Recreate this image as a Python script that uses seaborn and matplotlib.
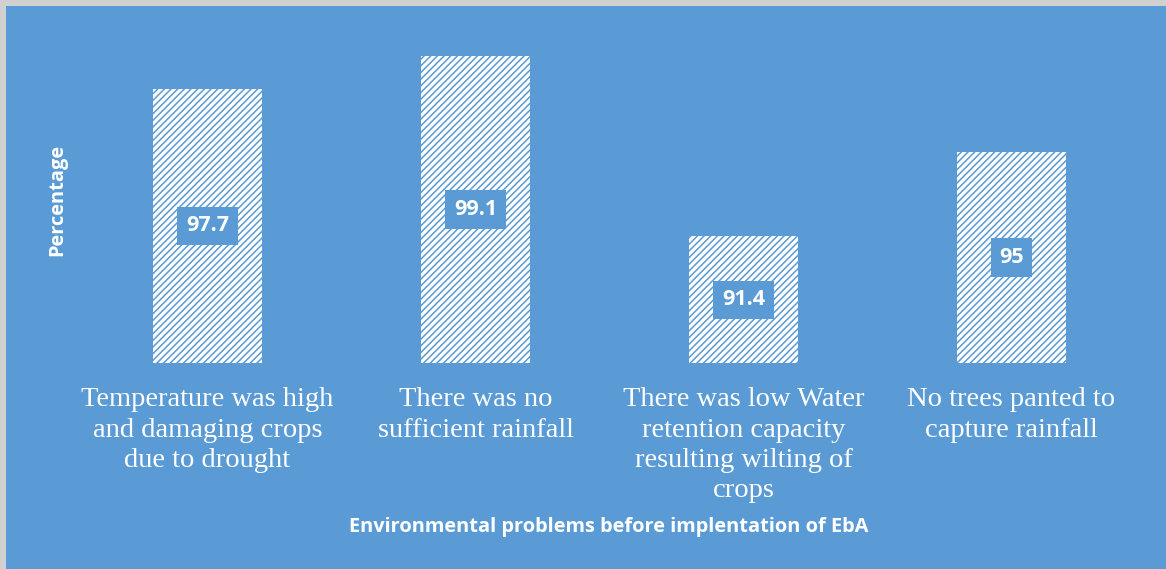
import matplotlib
matplotlib.use("Agg")
import matplotlib.pyplot as plt
import seaborn as sns
import pandas as pd
from matplotlib.patches import Rectangle

categories = [
    "Temperature was high\nand damaging crops\ndue to drought",
    "There was no\nsufficient rainfall",
    "There was low Water\nretention capacity\nresulting wilting of\ncrops",
    "No trees panted to\ncapture rainfall",
]
values = [97.7, 99.1, 91.4, 95]
value_labels = ["97.7", "99.1", "91.4", "95"]

BLUE = "#5B9BD5"
W, H, DPI = 1166, 569, 100

sns.set_theme(style="white")
plt.rcParams["hatch.linewidth"] = 1.1
plt.rcParams["hatch.color"] = BLUE

fig = plt.figure(figsize=(W / DPI, H / DPI), dpi=DPI, facecolor=BLUE)
# thin grey frame strips on the left and top edges
fig.patches.append(Rectangle((0, 0), 6 / W, 1, transform=fig.transFigure,
                             facecolor="#D0D0D0", edgecolor="none", zorder=0))
fig.patches.append(Rectangle((0, 1 - 6 / H), 1, 6 / H, transform=fig.transFigure,
                             facecolor="#D0D0D0", edgecolor="none", zorder=0))

ax = fig.add_axes([73.5 / W, 1 - 363 / H, (1145.5 - 73.5) / W, (363 - 35) / H])
ax.set_facecolor(BLUE)

df = pd.DataFrame({"problem": categories, "pct": values})
sns.barplot(data=df, x="problem", y="pct", ax=ax, color="white",
            width=0.405, saturation=1, edgecolor="none", linewidth=0)
for p in ax.patches:
    p.set_hatch("/////")
    p.set_edgecolor(BLUE)
    p.set_linewidth(0)

ax.set_ylim(86, 100)
ax.set_xlim(-0.5, 3.5)

for i, (v, lab) in enumerate(zip(values, value_labels)):
    ax.text(i, (86 + v) / 2, lab, ha="center", va="center", color="white",
            fontsize=15.5, fontweight="bold", family="Open Sans",
            bbox=dict(boxstyle="square,pad=0.4", facecolor=BLUE, edgecolor="none"))

ax.set_yticks([])
ax.tick_params(axis="x", length=0, pad=17.5)
ax.set_xticks(range(len(categories)))
ax.set_xticklabels(categories, color="white", fontsize=20.5,
                   family="Liberation Serif", linespacing=1.28)
for s in ax.spines.values():
    s.set_visible(False)

ax.set_xlabel("")
ax.set_ylabel("")
fig.text(609 / W, 1 - 527 / H, "Environmental problems before implentation of EbA",
         ha="center", va="center", color="white", fontsize=14.4,
         fontweight="bold", family="Open Sans")
fig.text(57 / W, 1 - 200 / H, "Percentage", rotation=90, ha="center", va="center",
         color="white", fontsize=14.4, fontweight="bold", family="Open Sans")

fig.savefig("out.png", dpi=DPI, facecolor=BLUE)
